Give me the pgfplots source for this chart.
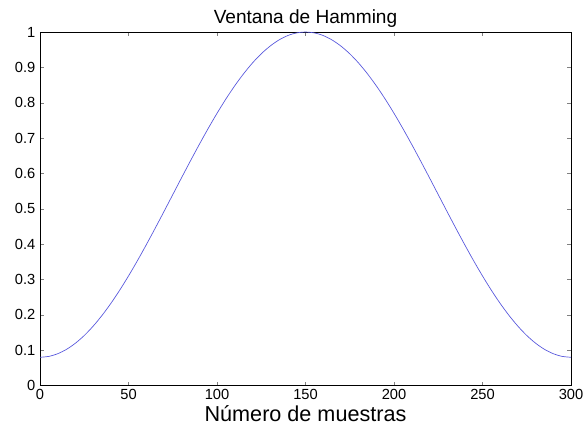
\documentclass[border=0pt]{standalone}
\usepackage{fontspec}
\setmainfont{Liberation Sans}
\usepackage{pgfplots}
\pgfplotsset{compat=1.18}
\definecolor{curve}{RGB}{85,85,220}
\begin{document}
\begin{tikzpicture}[x=1pt,y=1pt]
\begin{axis}[
  scale only axis,
  width=398pt, height=265pt,
  xmin=0, xmax=300, ymin=0, ymax=1,
  xtick={0,50,...,300},
  ytick={0,0.1,...,1},
  yticklabels={0,0.1,0.2,0.3,0.4,0.5,0.6,0.7,0.8,0.9,1},
  tick align=inside,
  major tick length=3pt,
  axis line style={line width=0.7pt},
  /pgf/number format/assume math mode=true,
  tick label style={font=\fontsize{11}{13}\selectfont},
  xticklabel style={yshift=1pt},
  title={Ventana de Hamming},
  title style={font=\fontsize{14.3}{16}\selectfont, yshift=-6pt},
  xlabel={Número de muestras},
  xlabel style={font=\fontsize{16.2}{18}\selectfont, yshift=2pt},
  clip=false,
]
\addplot[color=curve, line width=0.5pt, smooth] coordinates {
(0,0.0800) (5,0.0825) (10,0.0901) (15,0.1025) (20,0.1198) (25,0.1416)
(30,0.1679) (35,0.1982) (40,0.2322) (45,0.2696) (50,0.3100) (55,0.3529)
(60,0.3979) (65,0.4444) (70,0.4919) (75,0.5400) (80,0.5881) (85,0.6356)
(90,0.6821) (95,0.7271) (100,0.7700) (105,0.8104) (110,0.8478) (115,0.8818)
(120,0.9122) (125,0.9384) (130,0.9602) (135,0.9775) (140,0.9900) (145,0.9975)
(150,1.0000) (155,0.9975) (160,0.9900) (165,0.9775) (170,0.9602) (175,0.9384)
(180,0.9122) (185,0.8818) (190,0.8478) (195,0.8104) (200,0.7700) (205,0.7271)
(210,0.6821) (215,0.6356) (220,0.5881) (225,0.5400) (230,0.4919) (235,0.4444)
(240,0.3979) (245,0.3529) (250,0.3100) (255,0.2696) (260,0.2322) (265,0.1982)
(270,0.1679) (275,0.1416) (280,0.1198) (285,0.1025) (290,0.0901) (295,0.0825)
(300,0.0800)
};
\coordinate (sw) at (rel axis cs:0,0);
\coordinate (ne) at (rel axis cs:1,1);
\end{axis}
\pgfresetboundingbox
\path (sw) ++(-30pt,-34pt) coordinate (bbl);
\path (ne) ++(9.75pt,24pt) coordinate (bbr);
\path[use as bounding box] (bbl) rectangle (bbr);
\end{tikzpicture}
\end{document}
